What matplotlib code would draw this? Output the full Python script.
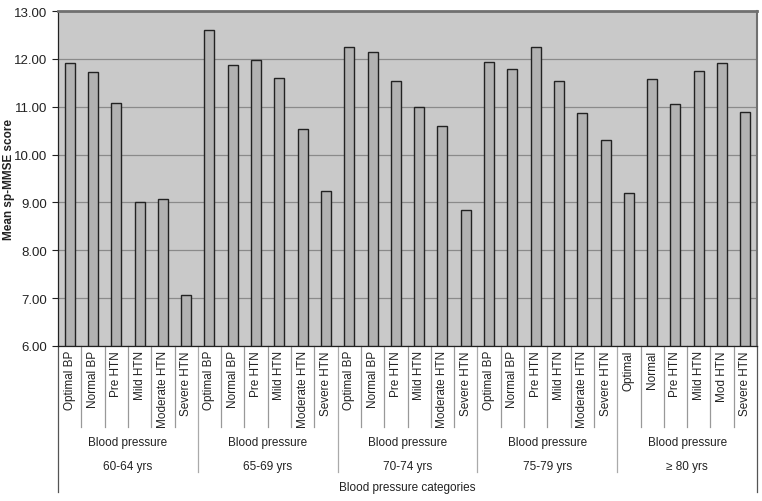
import matplotlib
matplotlib.use("Agg")
import matplotlib.pyplot as plt
from matplotlib.transforms import blended_transform_factory

plt.rcParams['font.family'] = ['Liberation Sans', 'DejaVu Sans']

groups = ["60-64 yrs", "65-69 yrs", "70-74 yrs", "75-79 yrs", "\u2265 80 yrs"]
group_title = "Blood pressure"
cats = [
    ["Optimal BP", "Normal BP", "Pre HTN", "Mild HTN", "Moderate HTN", "Severe HTN"],
    ["Optimal BP", "Normal BP", "Pre HTN", "Mild HTN", "Moderate HTN", "Severe HTN"],
    ["Optimal BP", "Normal BP", "Pre HTN", "Mild HTN", "Moderate HTN", "Severe HTN"],
    ["Optimal BP", "Normal BP", "Pre HTN", "Mild HTN", "Moderate HTN", "Severe HTN"],
    ["Optimal", "Normal", "Pre HTN", "Mild HTN", "Mod HTN", "Severe HTN"],
]
values = [
    [11.91, 11.73, 11.08, 9.01, 9.08, 7.07],
    [12.60, 11.87, 11.97, 11.60, 10.54, 9.24],
    [12.24, 12.15, 11.53, 11.00, 10.60, 8.84],
    [11.93, 11.78, 12.24, 11.53, 10.87, 10.30],
    [9.19, 11.58, 11.05, 11.75, 11.91, 10.90],
]
y_ticks = [6, 7, 8, 9, 10, 11, 12, 13]
ylabel = "Mean sp-MMSE score"
xlabel = "Blood pressure categories"

fig = plt.figure(figsize=(7.62, 5.02), dpi=100)
ax = fig.add_axes([58/762, 1-347/502, (757-58)/762, 335/502])
ax.set_facecolor("#c9c9c9")

labels = [c for g in cats for c in g]
vals = [v for g in values for v in g]
xs = list(range(len(vals)))
ax.bar(xs, [v - 6 for v in vals], bottom=6, width=0.43, color="#b2b2b2",
       edgecolor="#222222", linewidth=1.0, zorder=3)

ax.set_xlim(-0.5, len(vals) - 0.5)
ax.set_ylim(6, 13)
ax.set_yticks(y_ticks)
ax.set_yticklabels([f"{t:.2f}" for t in y_ticks], fontsize=9.5)
ax.yaxis.grid(True, color="#8a8a8a", linewidth=0.9, zorder=1)
ax.set_xticks([])
ax.tick_params(axis='y', length=4, width=0.8, pad=4, colors="#222222")
ax.set_ylabel(ylabel, fontsize=8.5, fontweight='bold', color="#222222")
ax.yaxis.set_label_coords((15 - 58) / 699.0, 0.5)

for s in ['left', 'bottom']:
    ax.spines[s].set_color("#222222")
    ax.spines[s].set_linewidth(0.9)
ax.spines['top'].set_color("#707070")
ax.spines['top'].set_linewidth(2.0)
ax.spines['right'].set_color("#707070")
ax.spines['right'].set_linewidth(1.5)

tr = blended_transform_factory(ax.transData, ax.transAxes)
def frac(p):
    return (347 - p) / 335.0

# category labels
for x, lab in zip(xs, labels):
    ax.text(x, frac(351), lab, transform=tr, rotation=90, ha='center', va='top',
            fontsize=8.5, color="#222222")

# category separators
for i in range(len(vals) + 1):
    x = i - 0.5
    if i % 6 == 0:
        end = 493 if i in (0, len(vals)) else 473
        col = "#555555" if i in (0, len(vals)) else "#aaaaaa"
    else:
        end = 428
        col = "#999999"
    ax.plot([x, x], [0, frac(end)], transform=tr, color=col, linewidth=0.9,
            clip_on=False, zorder=0)

# group labels
for gi, g in enumerate(groups):
    cx = gi * 6 + 2.5
    ax.text(cx, frac(443), group_title, transform=tr, ha='center', va='center',
            fontsize=8.5, color="#222222")
    ax.text(cx, frac(467), g, transform=tr, ha='center', va='center',
            fontsize=8.5, color="#222222")

ax.text((len(vals) - 1) / 2, frac(488), xlabel, transform=tr, ha='center',
        va='center', fontsize=8.5, color="#222222")

fig.savefig("out.png", dpi=100)
